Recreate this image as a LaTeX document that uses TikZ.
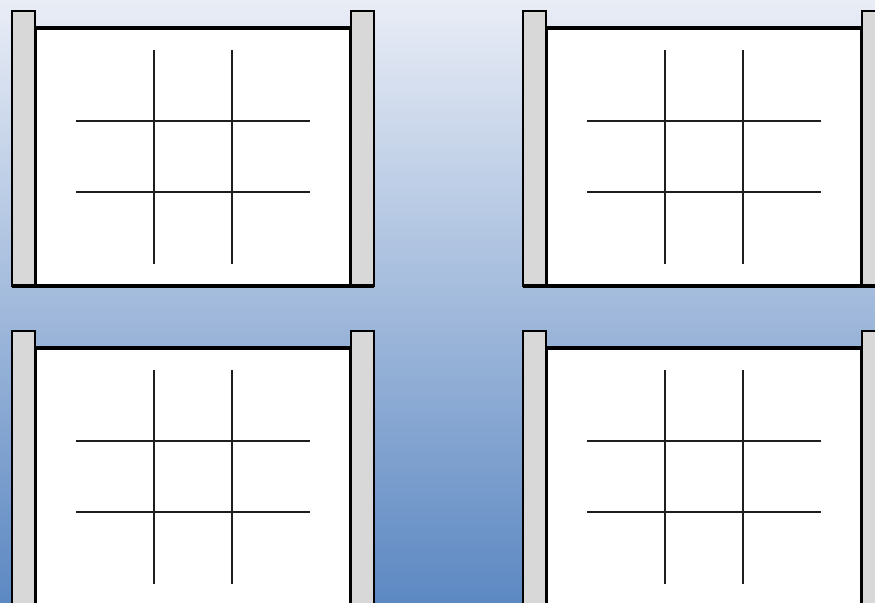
\documentclass[tikz,border=0pt]{standalone}
\usetikzlibrary{calc}
\definecolor{bgtop}{RGB}{233,237,246}
\definecolor{bgbot}{RGB}{92,136,194}
\definecolor{postgrey}{RGB}{216,216,216}
\definecolor{gridline}{RGB}{30,30,30}
\tikzset{
  boardface/.style={fill=white,draw=black,line width=2.4pt},
  postbox/.style={fill=postgrey,draw=black,line width=1.7pt},
  baseline/.style={draw=black,line width=2.6pt},
  gridstroke/.style={draw=gridline,line width=1.5pt},
  board/.pic={
    \path[boardface] (35,286) -- (35,28) -- (351,28) -- (351,286);
    \path[postbox] (12,11) rectangle (35,286);
    \path[postbox] (351,11) rectangle (374,286);
    \path[baseline] (12,286) -- (374,286);
    \path[gridstroke] (154,50) -- (154,264);
    \path[gridstroke] (232,50) -- (232,264);
    \path[gridstroke] (76,121) -- (310,121);
    \path[gridstroke] (76,192) -- (310,192);
  }
}
\begin{document}
\begin{tikzpicture}[x=0.75pt,y=-0.75pt]
\useasboundingbox (0,0) rectangle (875,603);
\shade[top color=bgtop,bottom color=bgbot] (0,0) rectangle (875,603);
\begin{scope}
\clip (0,0) rectangle (875,603);
\pic at (0,0) {board};
\pic at (511,0) {board};
\pic at (0,320) {board};
\pic at (511,320) {board};
\end{scope}
\end{tikzpicture}
\end{document}
